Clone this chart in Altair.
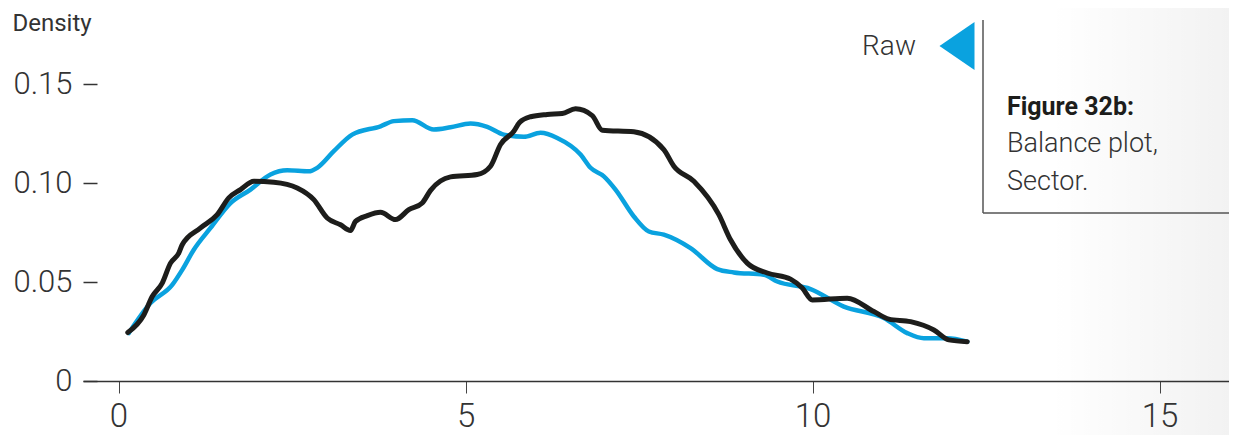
import altair as alt
import pandas as pd

# ---- data ----
raw_x = [0.148, 0.461, 0.774, 0.918, 1.085, 1.326, 1.614, 1.902, 2.190, 2.431, 2.742, 2.863,
         3.102, 3.367, 3.775, 3.967, 4.232, 4.543, 4.784, 5.072, 5.313, 5.552, 5.840, 6.081,
         6.321, 6.657, 6.801, 6.993, 7.161, 7.425, 7.641, 7.857, 8.242, 8.627, 8.866, 9.298,
         9.491, 9.971, 10.451, 11.028, 11.364, 11.604, 11.941, 12.229]
raw_y = [0.0242, 0.0394, 0.0486, 0.0562, 0.0664, 0.0774, 0.0900, 0.0968, 0.1044, 0.1065, 0.1060, 0.1078,
         0.1162, 0.1246, 0.1288, 0.1314, 0.1319, 0.1272, 0.1283, 0.1302, 0.1285, 0.1246, 0.1235, 0.1255,
         0.1229, 0.1145, 0.1078, 0.1035, 0.0968, 0.0832, 0.0756, 0.0740, 0.0672, 0.0566, 0.0549, 0.0537,
         0.0503, 0.0465, 0.0376, 0.0318, 0.0242, 0.0216, 0.0216, 0.0199]

adj_x = [0.134, 0.365, 0.486, 0.630, 0.749, 0.869, 0.918, 1.182, 1.422, 1.589, 1.758, 1.950,
         2.238, 2.575, 2.814, 3.007, 3.199, 3.343, 3.415, 3.584, 3.775, 3.991, 4.183, 4.376,
         4.496, 4.784, 5.169, 5.360, 5.504, 5.696, 5.778, 5.937, 6.177, 6.393, 6.585, 6.826,
         6.970, 7.425, 7.857, 8.002, 8.290, 8.650, 8.818, 9.059, 9.347, 9.683, 9.852, 9.996,
         10.500, 10.883, 11.099, 11.412, 11.748, 11.964, 12.229]
adj_y = [0.0245, 0.0334, 0.0427, 0.0495, 0.0596, 0.0647, 0.0689, 0.0774, 0.0841, 0.0926, 0.0968, 0.1010,
         0.1005, 0.0976, 0.0917, 0.0824, 0.0790, 0.0761, 0.0807, 0.0836, 0.0853, 0.0816, 0.0866, 0.0900,
         0.0964, 0.1032, 0.1044, 0.1086, 0.1196, 0.1263, 0.1307, 0.1336, 0.1348, 0.1353, 0.1376, 0.1342,
         0.1268, 0.1260, 0.1170, 0.1086, 0.1010, 0.0841, 0.0714, 0.0596, 0.0546, 0.0515, 0.0470, 0.0410,
         0.0419, 0.0351, 0.0313, 0.0300, 0.0258, 0.0208, 0.0199]

x_ticks = [0, 5, 10, 15]
y_ticks = [0, 0.05, 0.10, 0.15]
legend_label = ["Raw"]
caption_title = "Figure 32b:"
caption_lines = ["Balance plot,", "Sector."]

BLUE = "#0aa2df"
BLACK = "#1d1d1b"
TXT = "#333333"
FONT = "Roboto"

raw_df = pd.DataFrame({"x": raw_x, "y": raw_y})
adj_df = pd.DataFrame({"x": adj_x, "y": adj_y})

xscale = alt.Scale(domain=[-0.5115, 16.0], nice=False, zero=False)
yscale = alt.Scale(domain=[0, 0.1795], nice=False)

xaxis = alt.Axis(values=x_ticks, format="d", grid=False, title=None, zindex=1,
                 domainColor=TXT, domainWidth=1.5, tickColor="#444444", tickWidth=1,
                 tickSize=12, labelPadding=33, labelBaseline="alphabetic",
                 labelFont=FONT, labelFontWeight=300,
                 labelFontSize=33, labelColor=TXT)
yaxis = alt.Axis(values=y_ticks, grid=False, domain=False, offset=-14, tickSize=14, zindex=1,
                 tickColor=TXT, tickWidth=1.5, labelPadding=11,
                 labelExpr="datum.value == 0 ? '0' : format(datum.value, '.2f')",
                 labelFont=FONT, labelFontWeight=300, labelFontSize=31, labelColor=TXT,
                 title="Density", titleAngle=0, titleAlign="left", titleBaseline="middle",
                 titleX=-85, titleY=-3, titleFont=FONT, titleFontWeight=400,
                 titleFontSize=24, titleColor=TXT)

bg = alt.Chart(pd.DataFrame({"a": [0]})).mark_rect(
    fill=alt.Gradient(gradient="linear",
                      stops=[alt.GradientStop(color="rgba(0,0,0,0)", offset=0),
                             alt.GradientStop(color="rgba(0,0,0,0.05)", offset=1)],
                      x1=0, x2=1, y1=0, y2=0)
).encode(x=alt.value(967), x2=alt.value(1146), y=alt.value(-18), y2=alt.value(409))

raw_line = alt.Chart(raw_df).mark_line(color=BLUE, strokeWidth=4.5, interpolate="monotone",
                                       strokeCap="round", strokeJoin="round").encode(
    x=alt.X("x:Q", scale=xscale, axis=xaxis),
    y=alt.Y("y:Q", scale=yscale, axis=yaxis),
)
adj_line = alt.Chart(adj_df).mark_line(color=BLACK, strokeWidth=5, interpolate="monotone",
                                       strokeCap="round", strokeJoin="round").encode(
    x=alt.X("x:Q", scale=xscale),
    y=alt.Y("y:Q", scale=yscale),
)

leg_df = pd.DataFrame({"label": legend_label})
leg_sym = alt.Chart(leg_df).mark_point(
    shape="M 1 -1.37 L -1 0 L 1 1.37 Z", filled=True, fill=BLUE, stroke=None, opacity=1
).encode(x=alt.value(874), y=alt.value(20), size=alt.value(1225))
leg_txt = alt.Chart(leg_df).mark_text(
    align="right", baseline="middle", font=FONT, fontWeight=300, fontSize=28, color=TXT
).encode(x=alt.value(833), y=alt.value(21), text="label:N")

box_v = alt.Chart(pd.DataFrame({"a": [0]})).mark_rule(color="#555555", strokeWidth=1.5).encode(
    x=alt.value(900), y=alt.value(-6), y2=alt.value(187))
box_h = alt.Chart(pd.DataFrame({"a": [0]})).mark_rule(color="#555555", strokeWidth=1.5).encode(
    x=alt.value(900), x2=alt.value(1146), y=alt.value(187))

cap_t = alt.Chart(pd.DataFrame({"t": [caption_title]})).mark_text(
    align="left", baseline="alphabetic", font=FONT, fontWeight="bold", fontSize=25, color="#1d1d1b"
).encode(x=alt.value(924), y=alt.value(89), text="t:N")
cap_l1 = alt.Chart(pd.DataFrame({"t": [caption_lines[0]]})).mark_text(
    align="left", baseline="alphabetic", font=FONT, fontWeight=300, fontSize=27, color=TXT
).encode(x=alt.value(924), y=alt.value(126), text="t:N")
cap_l2 = alt.Chart(pd.DataFrame({"t": [caption_lines[1]]})).mark_text(
    align="left", baseline="alphabetic", font=FONT, fontWeight=300, fontSize=27, color=TXT
).encode(x=alt.value(924), y=alt.value(164), text="t:N")

chart = alt.layer(bg, raw_line, adj_line, leg_sym, leg_txt, box_v, box_h, cap_t, cap_l1, cap_l2).properties(
    width=1146, height=355,
    autosize=alt.AutoSizeParams(type="none"),
    padding={"left": 75, "top": 18, "right": 0, "bottom": 54},
    background="white",
).configure_view(stroke=None)

chart.save("out.html", embed_options={"renderer": "svg", "actions": False})
